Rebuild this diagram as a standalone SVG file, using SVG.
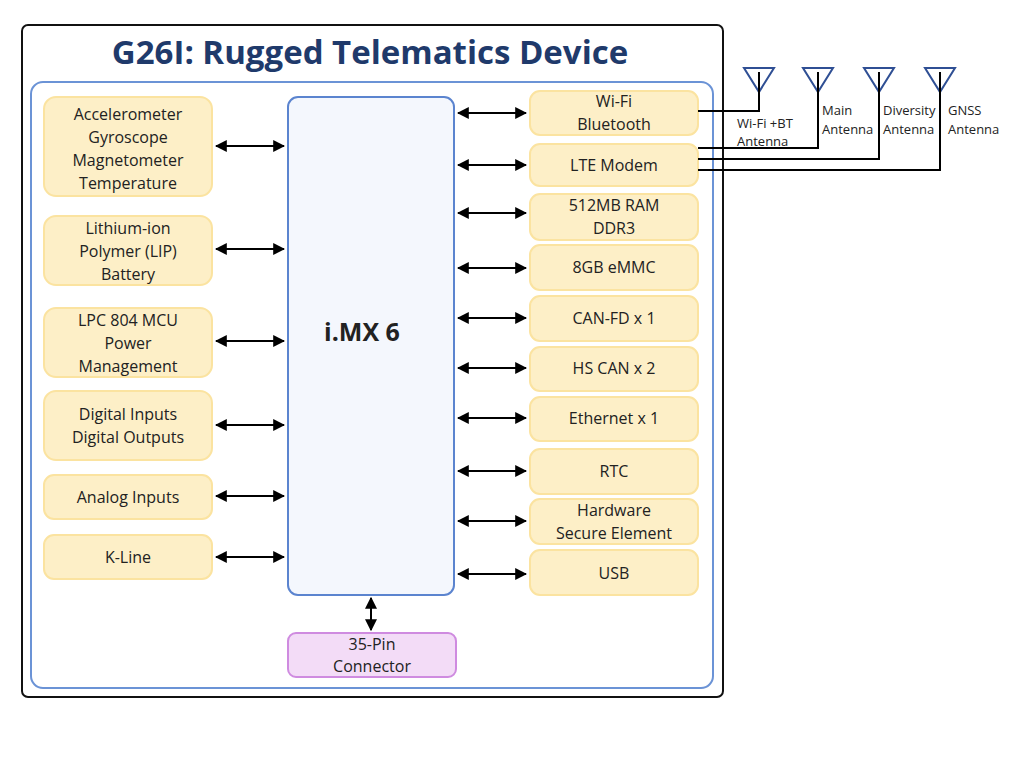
<svg xmlns="http://www.w3.org/2000/svg" width="1024" height="766" viewBox="0 0 1024 766">
<defs>
<marker id="ah" viewBox="0 0 10 10" refX="9" refY="5" markerWidth="6" markerHeight="6" orient="auto-start-reverse"><path d="M0,0 L10,5 L0,10 z" fill="#000"/></marker>
<style>
.n{fill:#fdefc7;stroke:#fbe3a0;stroke-width:2}
.t{font-family:"Open Sans","Liberation Sans",sans-serif;font-size:16px;fill:#222;text-anchor:middle}
.s{font-family:"Open Sans","Liberation Sans",sans-serif;font-size:13px;fill:#222}
.c{stroke:#000;stroke-width:2;fill:none}
.a{stroke:#000;stroke-width:2;marker-start:url(#ah);marker-end:url(#ah)}
.ant{fill:none;stroke:#2f4f94;stroke-width:2}
</style>
</defs>
<rect width="1024" height="766" fill="#fff"/>
<rect x="22" y="25" width="701" height="672" rx="6" fill="#fff" stroke="#111" stroke-width="2"/>
<text x="370" y="64" font-family="Open Sans,Liberation Sans,sans-serif" font-size="33" font-weight="bold" fill="#1f3a6b" text-anchor="middle">G26I: Rugged Telematics Device</text>
<rect x="31" y="82" width="682" height="606" rx="12" fill="#fff" stroke="#6b93d6" stroke-width="2"/>
<g id="imx"><rect x="288" y="97" width="166" height="498" rx="10" fill="#f4f7fd" stroke="#5b84cf" stroke-width="2"/><text x="362" y="341" class="t" style="font-size:25px;font-weight:bold">i.MX 6</text></g>
<g id="left">
<g id="imu"><rect class="n" x="44" y="97" width="168" height="99" rx="12"/><text class="t" x="128" y="120">Accelerometer</text><text class="t" x="128" y="143">Gyroscope</text><text class="t" x="128" y="166">Magnetometer</text><text class="t" x="128" y="189">Temperature</text></g>
<g id="bat"><rect class="n" x="44" y="216" width="168" height="69" rx="12"/><text class="t" x="128" y="234">Lithium-ion</text><text class="t" x="128" y="257">Polymer (LIP)</text><text class="t" x="128" y="280">Battery</text></g>
<g id="mcu"><rect class="n" x="44" y="308" width="168" height="69" rx="12"/><text class="t" x="128" y="326">LPC 804 MCU</text><text class="t" x="128" y="349">Power</text><text class="t" x="128" y="372">Management</text></g>
<g id="dio"><rect class="n" x="44" y="391" width="168" height="69" rx="12"/><text class="t" x="128" y="420">Digital Inputs</text><text class="t" x="128" y="443">Digital Outputs</text></g>
<g id="ain"><rect class="n" x="44" y="475" width="168" height="44" rx="10"/><text class="t" x="128" y="503">Analog Inputs</text></g>
<g id="kline"><rect class="n" x="44" y="535" width="168" height="44" rx="10"/><text class="t" x="128" y="563">K-Line</text></g>
</g>
<g id="right">
<g id="wifi"><rect class="n" x="530" y="91" width="168" height="44" rx="10"/><text class="t" x="614" y="107">Wi-Fi</text><text class="t" x="614" y="130">Bluetooth</text></g>
<g id="lte"><rect class="n" x="530" y="144" width="168" height="42" rx="10"/><text class="t" x="614" y="171">LTE Modem</text></g>
<g id="ram"><rect class="n" x="530" y="194" width="168" height="46" rx="10"/><text class="t" x="614" y="211">512MB RAM</text><text class="t" x="614" y="234">DDR3</text></g>
<g id="emmc"><rect class="n" x="530" y="245" width="168" height="45" rx="10"/><text class="t" x="614" y="273">8GB eMMC</text></g>
<g id="canfd"><rect class="n" x="530" y="296" width="168" height="45" rx="10"/><text class="t" x="614" y="324">CAN-FD x 1</text></g>
<g id="hscan"><rect class="n" x="530" y="347" width="168" height="44" rx="10"/><text class="t" x="614" y="374">HS CAN x 2</text></g>
<g id="eth"><rect class="n" x="530" y="397" width="168" height="44" rx="10"/><text class="t" x="614" y="424">Ethernet x 1</text></g>
<g id="rtc"><rect class="n" x="530" y="449" width="168" height="45" rx="10"/><text class="t" x="614" y="477">RTC</text></g>
<g id="hse"><rect class="n" x="530" y="499" width="168" height="45" rx="10"/><text class="t" x="614" y="516">Hardware</text><text class="t" x="614" y="539">Secure Element</text></g>
<g id="usb"><rect class="n" x="530" y="550" width="168" height="45" rx="10"/><text class="t" x="614" y="579">USB</text></g>
</g>
<g id="conn"><rect x="288" y="633" width="168" height="44" rx="8" fill="#f3dcf7" stroke="#cf8be0" stroke-width="2"/><text class="t" x="372" y="650">35-Pin</text><text class="t" x="372" y="672">Connector</text></g>
<g id="antennas">
<path class="ant" d="M744,68 L774,68 L759,92 Z"/><path class="ant" d="M803,68 L833,68 L818,92 Z"/><path class="ant" d="M864,68 L894,68 L879,92 Z"/><path class="ant" d="M925,68 L955,68 L940,92 Z"/>
<text class="s" x="737" y="128">Wi-Fi +BT</text><text class="s" x="737" y="146">Antenna</text>
<text class="s" x="822" y="115">Main</text><text class="s" x="822" y="134">Antenna</text>
<text class="s" x="883" y="115">Diversity</text><text class="s" x="883" y="134">Antenna</text>
<text class="s" x="948" y="115">GNSS</text><text class="s" x="948" y="134">Antenna</text>
</g>
<g id="connectors">
<path class="c" d="M698,111 H759 V72"/><path class="c" d="M698,148 H818 V72"/><path class="c" d="M698,159 H879 V72"/><path class="c" d="M698,170 H940 V72"/>
<line class="a" x1="216" y1="146" x2="284" y2="146"/><line class="a" x1="216" y1="249" x2="284" y2="249"/><line class="a" x1="216" y1="341" x2="284" y2="341"/><line class="a" x1="216" y1="425" x2="284" y2="425"/><line class="a" x1="216" y1="496" x2="284" y2="496"/><line class="a" x1="216" y1="557" x2="284" y2="557"/>
<line class="a" x1="458" y1="113" x2="526" y2="113"/><line class="a" x1="458" y1="165" x2="526" y2="165"/><line class="a" x1="458" y1="213" x2="526" y2="213"/><line class="a" x1="458" y1="268" x2="526" y2="268"/><line class="a" x1="458" y1="318" x2="526" y2="318"/><line class="a" x1="458" y1="368" x2="526" y2="368"/><line class="a" x1="458" y1="418" x2="526" y2="418"/><line class="a" x1="458" y1="471" x2="526" y2="471"/><line class="a" x1="458" y1="521" x2="526" y2="521"/><line class="a" x1="458" y1="574" x2="526" y2="574"/>
<line class="a" x1="371" y1="598" x2="371" y2="630"/>
</g>
</svg>
